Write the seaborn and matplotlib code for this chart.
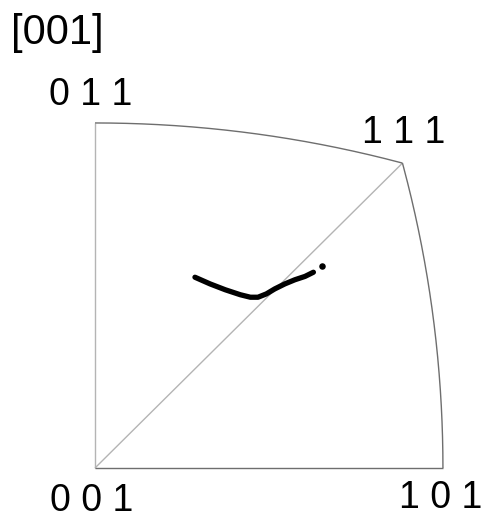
import numpy as np
import pandas as pd
import matplotlib
matplotlib.use("Agg")
import matplotlib.pyplot as plt
import seaborn as sns

sns.set_theme(style="white")
plt.rcParams["font.family"] = ["Liberation Sans", "DejaVu Sans"]

# Trajectory of the [001] sample axis in the stereographic projection (x, y)
traj_x = [0.119, 0.137, 0.155, 0.173, 0.185, 0.194, 0.204, 0.214, 0.226, 0.238, 0.250, 0.260]
traj_y = [0.229, 0.221, 0.214, 0.208, 0.205, 0.205, 0.209, 0.215, 0.221, 0.226, 0.230, 0.235]
# Isolated final orientation
end_x = [0.270]
end_y = [0.242]

# Corner poles of the projected sector
pole_labels = ["0 0 1", "1 0 1", "1 1 1", "0 1 1"]
pole_dirs = [(0, 0, 1), (1, 0, 1), (1, 1, 1), (0, 1, 1)]


def stereo(v):
    v = np.asarray(v, dtype=float)
    v = v / np.linalg.norm(v, axis=-1, keepdims=True)
    return v[..., 0] / (1 + v[..., 2]), v[..., 1] / (1 + v[..., 2])


def great_arc(a, b, n=200):
    t = np.linspace(0, 1, n)[:, None]
    pts = (1 - t) * np.asarray(a, float) + t * np.asarray(b, float)
    return stereo(pts)


fig = plt.figure(figsize=(4.84, 5.25), dpi=100)
ax = fig.add_axes([0, 0, 1, 1])
sx, sy = 840.0, 833.0
ax.set_xlim(-95 / sx, (484 - 95) / sx)
ax.set_ylim((468 - 525) / sy, 468 / sy)
ax.set_axis_off()

light = "#b4b4b4"
dark = "#6e6e6e"
edges = [
    ((0, 0, 1), (0, 1, 1), light),
    ((0, 0, 1), (1, 1, 1), light),
    ((0, 0, 1), (1, 0, 1), dark),
    ((1, 0, 1), (1, 1, 1), dark),
    ((0, 1, 1), (1, 1, 1), dark),
]
for a, b, c in edges:
    x, y = great_arc(a, b)
    ax.plot(x, y, color=c, lw=1.0, solid_capstyle="butt")

df = pd.DataFrame({"x": traj_x, "y": traj_y})
sns.lineplot(data=df, x="x", y="y", sort=False, ax=ax, color="black",
             lw=3.8, solid_capstyle="round", solid_joinstyle="round")
sns.scatterplot(x=end_x, y=end_y, ax=ax, color="black", s=22, linewidth=0)

offsets = {"0 0 1": (-3, -33), "1 0 1": (-2, -30),
           "1 1 1": (1, 30), "0 1 1": (-4, 28)}
for lab, d in zip(pole_labels, pole_dirs):
    px, py = stereo(d)
    dx, dy = offsets[lab]
    ax.text(px + dx / sx, py + dy / sy, lab, fontsize=27, ha="center", va="center", color="black")

ax.text(-38 / sx, (468 - 33) / sy, "[001]", fontsize=30, ha="center", va="center", color="black")

fig.savefig("out.png", dpi=100)
